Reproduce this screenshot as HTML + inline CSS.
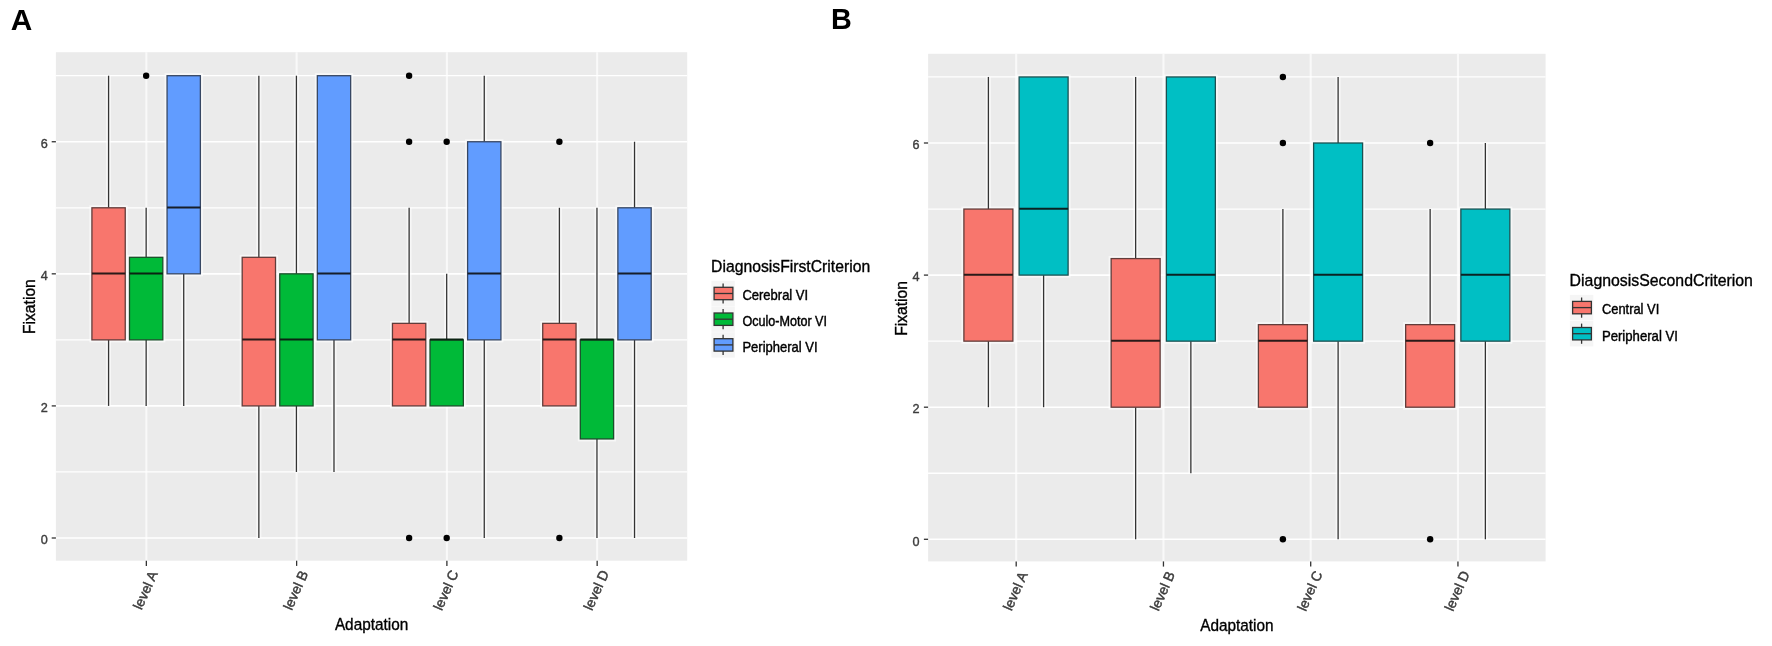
<!DOCTYPE html>
<html lang="en">
<head>
<meta charset="utf-8">
<title>Fixation by Adaptation level</title>
<style>
html, body { margin: 0; padding: 0; background: #ffffff; }
body { width: 1772px; height: 646px; overflow: hidden; font-family: "Liberation Sans", Arial, Helvetica, sans-serif; }
svg { display: block; filter: blur(0.4px); }
svg text { font-family: "Liberation Sans", Arial, Helvetica, sans-serif; }
</style>
</head>
<body>
<svg width="1772" height="646" viewBox="0 0 1772 646" font-family='"Liberation Sans", Arial, Helvetica, sans-serif'>
<rect width="1772" height="646" fill="#fff"/>
<text transform="translate(10.8 29.5)" font-size="29.8" text-anchor="start" fill="#000" font-weight="bold">A</text>
<text transform="translate(831 29.2) scale(0.97 1)" font-size="29.7" text-anchor="start" fill="#000" font-weight="bold">B</text>
<rect x="55.9" y="52.2" width="631.3" height="508.5" fill="#EBEBEB"/>
<line x1="55.9" x2="687.2" y1="471.96" y2="471.96" stroke="#fff" stroke-width="1.3"/>
<line x1="55.9" x2="687.2" y1="339.87" y2="339.87" stroke="#fff" stroke-width="1.3"/>
<line x1="55.9" x2="687.2" y1="207.79" y2="207.79" stroke="#fff" stroke-width="1.3"/>
<line x1="55.9" x2="687.2" y1="75.7" y2="75.7" stroke="#fff" stroke-width="1.3"/>
<line x1="55.9" x2="687.2" y1="538" y2="538" stroke="#fff" stroke-width="1.6"/>
<line x1="55.9" x2="687.2" y1="405.91" y2="405.91" stroke="#fff" stroke-width="1.6"/>
<line x1="55.9" x2="687.2" y1="273.83" y2="273.83" stroke="#fff" stroke-width="1.6"/>
<line x1="55.9" x2="687.2" y1="141.74" y2="141.74" stroke="#fff" stroke-width="1.6"/>
<line x1="146.35" x2="146.35" y1="52.2" y2="560.7" stroke="#fff" stroke-opacity="0.68" stroke-width="2.1"/>
<line x1="296.62" x2="296.62" y1="52.2" y2="560.7" stroke="#fff" stroke-opacity="0.68" stroke-width="2.1"/>
<line x1="446.89" x2="446.89" y1="52.2" y2="560.7" stroke="#fff" stroke-opacity="0.68" stroke-width="2.1"/>
<line x1="597.16" x2="597.16" y1="52.2" y2="560.7" stroke="#fff" stroke-opacity="0.68" stroke-width="2.1"/>
<line x1="108.58" x2="108.58" y1="75.7" y2="405.91" stroke="#fff" stroke-opacity="0.6" stroke-width="5" fill="none"/>
<rect x="91.92" y="207.79" width="33.32" height="132.09" stroke="#fff" stroke-opacity="0.6" stroke-width="5" fill="none"/>
<line x1="108.58" x2="108.58" y1="75.7" y2="207.79" stroke="#333333" stroke-width="1.3"/>
<line x1="108.58" x2="108.58" y1="339.87" y2="405.91" stroke="#333333" stroke-width="1.3"/>
<rect x="91.92" y="207.79" width="33.32" height="132.09" fill="#F8766D" stroke="#613c3a" stroke-width="1.3"/>
<line x1="91.92" x2="125.24" y1="273.48" y2="273.48" stroke="#291a19" stroke-width="2.1"/>
<line x1="146.15" x2="146.15" y1="207.79" y2="405.91" stroke="#fff" stroke-opacity="0.6" stroke-width="5" fill="none"/>
<rect x="129.49" y="257.32" width="33.32" height="82.55" stroke="#fff" stroke-opacity="0.6" stroke-width="5" fill="none"/>
<line x1="146.15" x2="146.15" y1="207.79" y2="257.32" stroke="#333333" stroke-width="1.3"/>
<line x1="146.15" x2="146.15" y1="339.87" y2="405.91" stroke="#333333" stroke-width="1.3"/>
<rect x="129.49" y="257.32" width="33.32" height="82.55" fill="#00BA38" stroke="#1b4f2b" stroke-width="1.3"/>
<line x1="129.49" x2="162.81" y1="273.48" y2="273.48" stroke="#0b2212" stroke-width="2.1"/>
<circle cx="146.15" cy="75.7" r="3.2" fill="#000"/>
<line x1="183.72" x2="183.72" y1="75.7" y2="405.91" stroke="#fff" stroke-opacity="0.6" stroke-width="5" fill="none"/>
<rect x="167.06" y="75.7" width="33.32" height="198.13" stroke="#fff" stroke-opacity="0.6" stroke-width="5" fill="none"/>
<line x1="183.72" x2="183.72" y1="273.83" y2="405.91" stroke="#333333" stroke-width="1.3"/>
<rect x="167.06" y="75.7" width="33.32" height="198.13" fill="#619CFF" stroke="#374763" stroke-width="1.3"/>
<line x1="167.06" x2="200.38" y1="207.44" y2="207.44" stroke="#171e2a" stroke-width="2.1"/>
<line x1="258.85" x2="258.85" y1="75.7" y2="538" stroke="#fff" stroke-opacity="0.6" stroke-width="5" fill="none"/>
<rect x="242.19" y="257.32" width="33.32" height="148.6" stroke="#fff" stroke-opacity="0.6" stroke-width="5" fill="none"/>
<line x1="258.85" x2="258.85" y1="75.7" y2="257.32" stroke="#333333" stroke-width="1.3"/>
<line x1="258.85" x2="258.85" y1="405.91" y2="538" stroke="#333333" stroke-width="1.3"/>
<rect x="242.19" y="257.32" width="33.32" height="148.6" fill="#F8766D" stroke="#613c3a" stroke-width="1.3"/>
<line x1="242.19" x2="275.51" y1="339.52" y2="339.52" stroke="#291a19" stroke-width="2.1"/>
<line x1="296.42" x2="296.42" y1="75.7" y2="471.96" stroke="#fff" stroke-opacity="0.6" stroke-width="5" fill="none"/>
<rect x="279.76" y="273.83" width="33.32" height="132.09" stroke="#fff" stroke-opacity="0.6" stroke-width="5" fill="none"/>
<line x1="296.42" x2="296.42" y1="75.7" y2="273.83" stroke="#333333" stroke-width="1.3"/>
<line x1="296.42" x2="296.42" y1="405.91" y2="471.96" stroke="#333333" stroke-width="1.3"/>
<rect x="279.76" y="273.83" width="33.32" height="132.09" fill="#00BA38" stroke="#1b4f2b" stroke-width="1.3"/>
<line x1="279.76" x2="313.08" y1="339.52" y2="339.52" stroke="#0b2212" stroke-width="2.1"/>
<line x1="333.99" x2="333.99" y1="75.7" y2="471.96" stroke="#fff" stroke-opacity="0.6" stroke-width="5" fill="none"/>
<rect x="317.33" y="75.7" width="33.32" height="264.17" stroke="#fff" stroke-opacity="0.6" stroke-width="5" fill="none"/>
<line x1="333.99" x2="333.99" y1="339.87" y2="471.96" stroke="#333333" stroke-width="1.3"/>
<rect x="317.33" y="75.7" width="33.32" height="264.17" fill="#619CFF" stroke="#374763" stroke-width="1.3"/>
<line x1="317.33" x2="350.65" y1="273.48" y2="273.48" stroke="#171e2a" stroke-width="2.1"/>
<line x1="409.12" x2="409.12" y1="207.79" y2="405.91" stroke="#fff" stroke-opacity="0.6" stroke-width="5" fill="none"/>
<rect x="392.46" y="323.36" width="33.32" height="82.55" stroke="#fff" stroke-opacity="0.6" stroke-width="5" fill="none"/>
<line x1="409.12" x2="409.12" y1="207.79" y2="323.36" stroke="#333333" stroke-width="1.3"/>
<rect x="392.46" y="323.36" width="33.32" height="82.55" fill="#F8766D" stroke="#613c3a" stroke-width="1.3"/>
<line x1="392.46" x2="425.78" y1="339.52" y2="339.52" stroke="#291a19" stroke-width="2.1"/>
<circle cx="409.12" cy="75.7" r="3.2" fill="#000"/>
<circle cx="409.12" cy="141.74" r="3.2" fill="#000"/>
<circle cx="409.12" cy="538" r="3.2" fill="#000"/>
<line x1="446.69" x2="446.69" y1="273.83" y2="405.91" stroke="#fff" stroke-opacity="0.6" stroke-width="5" fill="none"/>
<rect x="430.03" y="339.87" width="33.32" height="66.04" stroke="#fff" stroke-opacity="0.6" stroke-width="5" fill="none"/>
<line x1="446.69" x2="446.69" y1="273.83" y2="339.87" stroke="#333333" stroke-width="1.3"/>
<rect x="430.03" y="339.87" width="33.32" height="66.04" fill="#00BA38" stroke="#1b4f2b" stroke-width="1.3"/>
<line x1="430.03" x2="463.35" y1="339.52" y2="339.52" stroke="#0b2212" stroke-width="2.1"/>
<circle cx="446.69" cy="141.74" r="3.2" fill="#000"/>
<circle cx="446.69" cy="538" r="3.2" fill="#000"/>
<line x1="484.26" x2="484.26" y1="75.7" y2="538" stroke="#fff" stroke-opacity="0.6" stroke-width="5" fill="none"/>
<rect x="467.6" y="141.74" width="33.32" height="198.13" stroke="#fff" stroke-opacity="0.6" stroke-width="5" fill="none"/>
<line x1="484.26" x2="484.26" y1="75.7" y2="141.74" stroke="#333333" stroke-width="1.3"/>
<line x1="484.26" x2="484.26" y1="339.87" y2="538" stroke="#333333" stroke-width="1.3"/>
<rect x="467.6" y="141.74" width="33.32" height="198.13" fill="#619CFF" stroke="#374763" stroke-width="1.3"/>
<line x1="467.6" x2="500.92" y1="273.48" y2="273.48" stroke="#171e2a" stroke-width="2.1"/>
<line x1="559.39" x2="559.39" y1="207.79" y2="405.91" stroke="#fff" stroke-opacity="0.6" stroke-width="5" fill="none"/>
<rect x="542.73" y="323.36" width="33.32" height="82.55" stroke="#fff" stroke-opacity="0.6" stroke-width="5" fill="none"/>
<line x1="559.39" x2="559.39" y1="207.79" y2="323.36" stroke="#333333" stroke-width="1.3"/>
<rect x="542.73" y="323.36" width="33.32" height="82.55" fill="#F8766D" stroke="#613c3a" stroke-width="1.3"/>
<line x1="542.73" x2="576.05" y1="339.52" y2="339.52" stroke="#291a19" stroke-width="2.1"/>
<circle cx="559.39" cy="141.74" r="3.2" fill="#000"/>
<circle cx="559.39" cy="538" r="3.2" fill="#000"/>
<line x1="596.96" x2="596.96" y1="207.79" y2="538" stroke="#fff" stroke-opacity="0.6" stroke-width="5" fill="none"/>
<rect x="580.3" y="339.87" width="33.32" height="99.06" stroke="#fff" stroke-opacity="0.6" stroke-width="5" fill="none"/>
<line x1="596.96" x2="596.96" y1="207.79" y2="339.87" stroke="#333333" stroke-width="1.3"/>
<line x1="596.96" x2="596.96" y1="438.94" y2="538" stroke="#333333" stroke-width="1.3"/>
<rect x="580.3" y="339.87" width="33.32" height="99.06" fill="#00BA38" stroke="#1b4f2b" stroke-width="1.3"/>
<line x1="580.3" x2="613.62" y1="339.52" y2="339.52" stroke="#0b2212" stroke-width="2.1"/>
<line x1="634.53" x2="634.53" y1="141.74" y2="538" stroke="#fff" stroke-opacity="0.6" stroke-width="5" fill="none"/>
<rect x="617.87" y="207.79" width="33.32" height="132.09" stroke="#fff" stroke-opacity="0.6" stroke-width="5" fill="none"/>
<line x1="634.53" x2="634.53" y1="141.74" y2="207.79" stroke="#333333" stroke-width="1.3"/>
<line x1="634.53" x2="634.53" y1="339.87" y2="538" stroke="#333333" stroke-width="1.3"/>
<rect x="617.87" y="207.79" width="33.32" height="132.09" fill="#619CFF" stroke="#374763" stroke-width="1.3"/>
<line x1="617.87" x2="651.19" y1="273.48" y2="273.48" stroke="#171e2a" stroke-width="2.1"/>
<line x1="51.7" x2="55.9" y1="538" y2="538" stroke="#333333" stroke-width="1.3"/>
<text transform="translate(47.7 544.2) scale(0.93 1)" font-size="13.6" text-anchor="end" fill="#3c3c3c" stroke="#3c3c3c" stroke-width="0.4">0</text>
<line x1="51.7" x2="55.9" y1="405.91" y2="405.91" stroke="#333333" stroke-width="1.3"/>
<text transform="translate(47.7 412.11) scale(0.93 1)" font-size="13.6" text-anchor="end" fill="#3c3c3c" stroke="#3c3c3c" stroke-width="0.4">2</text>
<line x1="51.7" x2="55.9" y1="273.83" y2="273.83" stroke="#333333" stroke-width="1.3"/>
<text transform="translate(47.7 280.03) scale(0.93 1)" font-size="13.6" text-anchor="end" fill="#3c3c3c" stroke="#3c3c3c" stroke-width="0.4">4</text>
<line x1="51.7" x2="55.9" y1="141.74" y2="141.74" stroke="#333333" stroke-width="1.3"/>
<text transform="translate(47.7 147.94) scale(0.93 1)" font-size="13.6" text-anchor="end" fill="#3c3c3c" stroke="#3c3c3c" stroke-width="0.4">6</text>
<line x1="146.35" x2="146.35" y1="560.7" y2="565.9" stroke="#333333" stroke-width="1.3"/>
<g transform="translate(145.45 590.2) rotate(-66)">
<text transform="translate(0 4.8) scale(0.98 1)" font-size="14" text-anchor="middle" fill="#3c3c3c" stroke="#3c3c3c" stroke-width="0.45">level A</text>
</g>
<line x1="296.62" x2="296.62" y1="560.7" y2="565.9" stroke="#333333" stroke-width="1.3"/>
<g transform="translate(295.72 590.2) rotate(-66)">
<text transform="translate(0 4.8) scale(0.98 1)" font-size="14" text-anchor="middle" fill="#3c3c3c" stroke="#3c3c3c" stroke-width="0.45">level B</text>
</g>
<line x1="446.89" x2="446.89" y1="560.7" y2="565.9" stroke="#333333" stroke-width="1.3"/>
<g transform="translate(445.99 590.2) rotate(-66)">
<text transform="translate(0 4.8) scale(0.98 1)" font-size="14" text-anchor="middle" fill="#3c3c3c" stroke="#3c3c3c" stroke-width="0.45">level C</text>
</g>
<line x1="597.16" x2="597.16" y1="560.7" y2="565.9" stroke="#333333" stroke-width="1.3"/>
<g transform="translate(596.26 590.2) rotate(-66)">
<text transform="translate(0 4.8) scale(0.98 1)" font-size="14" text-anchor="middle" fill="#3c3c3c" stroke="#3c3c3c" stroke-width="0.45">level D</text>
</g>
<text transform="translate(371.55 629.5) scale(0.93 1)" font-size="16.5" text-anchor="middle" fill="#000" stroke="#000" stroke-width="0.35">Adaptation</text>
<text transform="translate(35.2 306.6) rotate(-90) scale(0.95 1)" font-size="16.5" text-anchor="middle" fill="#000" stroke="#000" stroke-width="0.35">Fixation</text>
<text transform="translate(711.1 272.3) scale(0.954 1)" font-size="16.5" text-anchor="start" fill="#000" stroke="#000" stroke-width="0.35">DiagnosisFirstCriterion</text>
<rect x="711.4" y="280.8" width="23.4" height="25.4" fill="#F5F5F5"/>
<line x1="723.1" x2="723.1" y1="283.4" y2="303.6" stroke="#333333" stroke-width="1.3"/>
<rect x="714.1" y="287.3" width="18.8" height="12.4" fill="#F8766D" stroke="#333333" stroke-width="1.3"/>
<line x1="714.1" x2="732.9" y1="293.5" y2="293.5" stroke="#333333" stroke-width="1.3"/>
<text transform="translate(742.4 300.3) scale(0.93 1)" font-size="14" text-anchor="start" fill="#000" stroke="#000" stroke-width="0.42">Cerebral VI</text>
<rect x="711.4" y="306.5" width="23.4" height="25.4" fill="#F5F5F5"/>
<line x1="723.1" x2="723.1" y1="309.1" y2="329.3" stroke="#333333" stroke-width="1.3"/>
<rect x="714.1" y="313" width="18.8" height="12.4" fill="#00BA38" stroke="#333333" stroke-width="1.3"/>
<line x1="714.1" x2="732.9" y1="319.2" y2="319.2" stroke="#333333" stroke-width="1.3"/>
<text transform="translate(742.4 326) scale(0.9 1)" font-size="14" text-anchor="start" fill="#000" stroke="#000" stroke-width="0.42">Oculo-Motor VI</text>
<rect x="711.4" y="332.2" width="23.4" height="25.4" fill="#F5F5F5"/>
<line x1="723.1" x2="723.1" y1="334.8" y2="355" stroke="#333333" stroke-width="1.3"/>
<rect x="714.1" y="338.7" width="18.8" height="12.4" fill="#619CFF" stroke="#333333" stroke-width="1.3"/>
<line x1="714.1" x2="732.9" y1="344.9" y2="344.9" stroke="#333333" stroke-width="1.3"/>
<text transform="translate(742.4 351.7) scale(0.93 1)" font-size="14" text-anchor="start" fill="#000" stroke="#000" stroke-width="0.42">Peripheral VI</text>
<rect x="928.1" y="53.8" width="617.5" height="507.6" fill="#EBEBEB"/>
<line x1="928.1" x2="1545.6" y1="473.25" y2="473.25" stroke="#fff" stroke-width="1.3"/>
<line x1="928.1" x2="1545.6" y1="341.15" y2="341.15" stroke="#fff" stroke-width="1.3"/>
<line x1="928.1" x2="1545.6" y1="209.05" y2="209.05" stroke="#fff" stroke-width="1.3"/>
<line x1="928.1" x2="1545.6" y1="76.95" y2="76.95" stroke="#fff" stroke-width="1.3"/>
<line x1="928.1" x2="1545.6" y1="539.3" y2="539.3" stroke="#fff" stroke-width="1.6"/>
<line x1="928.1" x2="1545.6" y1="407.2" y2="407.2" stroke="#fff" stroke-width="1.6"/>
<line x1="928.1" x2="1545.6" y1="275.1" y2="275.1" stroke="#fff" stroke-width="1.6"/>
<line x1="928.1" x2="1545.6" y1="143" y2="143" stroke="#fff" stroke-width="1.6"/>
<line x1="1016.2" x2="1016.2" y1="53.8" y2="561.4" stroke="#fff" stroke-opacity="0.68" stroke-width="2.1"/>
<line x1="1163.45" x2="1163.45" y1="53.8" y2="561.4" stroke="#fff" stroke-opacity="0.68" stroke-width="2.1"/>
<line x1="1310.7" x2="1310.7" y1="53.8" y2="561.4" stroke="#fff" stroke-opacity="0.68" stroke-width="2.1"/>
<line x1="1457.95" x2="1457.95" y1="53.8" y2="561.4" stroke="#fff" stroke-opacity="0.68" stroke-width="2.1"/>
<line x1="988.39" x2="988.39" y1="76.95" y2="407.2" stroke="#fff" stroke-opacity="0.6" stroke-width="5" fill="none"/>
<rect x="963.9" y="209.05" width="48.98" height="132.1" stroke="#fff" stroke-opacity="0.6" stroke-width="5" fill="none"/>
<line x1="988.39" x2="988.39" y1="76.95" y2="209.05" stroke="#333333" stroke-width="1.3"/>
<line x1="988.39" x2="988.39" y1="341.15" y2="407.2" stroke="#333333" stroke-width="1.3"/>
<rect x="963.9" y="209.05" width="48.98" height="132.1" fill="#F8766D" stroke="#613c3a" stroke-width="1.3"/>
<line x1="963.9" x2="1012.88" y1="274.75" y2="274.75" stroke="#291a19" stroke-width="2.1"/>
<line x1="1043.61" x2="1043.61" y1="76.95" y2="407.2" stroke="#fff" stroke-opacity="0.6" stroke-width="5" fill="none"/>
<rect x="1019.12" y="76.95" width="48.98" height="198.15" stroke="#fff" stroke-opacity="0.6" stroke-width="5" fill="none"/>
<line x1="1043.61" x2="1043.61" y1="275.1" y2="407.2" stroke="#333333" stroke-width="1.3"/>
<rect x="1019.12" y="76.95" width="48.98" height="198.15" fill="#00BFC4" stroke="#1b5152" stroke-width="1.3"/>
<line x1="1019.12" x2="1068.1" y1="208.7" y2="208.7" stroke="#0b2223" stroke-width="2.1"/>
<line x1="1135.64" x2="1135.64" y1="76.95" y2="539.3" stroke="#fff" stroke-opacity="0.6" stroke-width="5" fill="none"/>
<rect x="1111.15" y="258.59" width="48.98" height="148.61" stroke="#fff" stroke-opacity="0.6" stroke-width="5" fill="none"/>
<line x1="1135.64" x2="1135.64" y1="76.95" y2="258.59" stroke="#333333" stroke-width="1.3"/>
<line x1="1135.64" x2="1135.64" y1="407.2" y2="539.3" stroke="#333333" stroke-width="1.3"/>
<rect x="1111.15" y="258.59" width="48.98" height="148.61" fill="#F8766D" stroke="#613c3a" stroke-width="1.3"/>
<line x1="1111.15" x2="1160.13" y1="340.8" y2="340.8" stroke="#291a19" stroke-width="2.1"/>
<line x1="1190.86" x2="1190.86" y1="76.95" y2="473.25" stroke="#fff" stroke-opacity="0.6" stroke-width="5" fill="none"/>
<rect x="1166.37" y="76.95" width="48.98" height="264.2" stroke="#fff" stroke-opacity="0.6" stroke-width="5" fill="none"/>
<line x1="1190.86" x2="1190.86" y1="341.15" y2="473.25" stroke="#333333" stroke-width="1.3"/>
<rect x="1166.37" y="76.95" width="48.98" height="264.2" fill="#00BFC4" stroke="#1b5152" stroke-width="1.3"/>
<line x1="1166.37" x2="1215.35" y1="274.75" y2="274.75" stroke="#0b2223" stroke-width="2.1"/>
<line x1="1282.89" x2="1282.89" y1="209.05" y2="407.2" stroke="#fff" stroke-opacity="0.6" stroke-width="5" fill="none"/>
<rect x="1258.4" y="324.64" width="48.98" height="82.56" stroke="#fff" stroke-opacity="0.6" stroke-width="5" fill="none"/>
<line x1="1282.89" x2="1282.89" y1="209.05" y2="324.64" stroke="#333333" stroke-width="1.3"/>
<rect x="1258.4" y="324.64" width="48.98" height="82.56" fill="#F8766D" stroke="#613c3a" stroke-width="1.3"/>
<line x1="1258.4" x2="1307.38" y1="340.8" y2="340.8" stroke="#291a19" stroke-width="2.1"/>
<circle cx="1282.89" cy="76.95" r="3.2" fill="#000"/>
<circle cx="1282.89" cy="143" r="3.2" fill="#000"/>
<circle cx="1282.89" cy="539.3" r="3.2" fill="#000"/>
<line x1="1338.11" x2="1338.11" y1="76.95" y2="539.3" stroke="#fff" stroke-opacity="0.6" stroke-width="5" fill="none"/>
<rect x="1313.62" y="143" width="48.98" height="198.15" stroke="#fff" stroke-opacity="0.6" stroke-width="5" fill="none"/>
<line x1="1338.11" x2="1338.11" y1="76.95" y2="143" stroke="#333333" stroke-width="1.3"/>
<line x1="1338.11" x2="1338.11" y1="341.15" y2="539.3" stroke="#333333" stroke-width="1.3"/>
<rect x="1313.62" y="143" width="48.98" height="198.15" fill="#00BFC4" stroke="#1b5152" stroke-width="1.3"/>
<line x1="1313.62" x2="1362.6" y1="274.75" y2="274.75" stroke="#0b2223" stroke-width="2.1"/>
<line x1="1430.14" x2="1430.14" y1="209.05" y2="407.2" stroke="#fff" stroke-opacity="0.6" stroke-width="5" fill="none"/>
<rect x="1405.65" y="324.64" width="48.98" height="82.56" stroke="#fff" stroke-opacity="0.6" stroke-width="5" fill="none"/>
<line x1="1430.14" x2="1430.14" y1="209.05" y2="324.64" stroke="#333333" stroke-width="1.3"/>
<rect x="1405.65" y="324.64" width="48.98" height="82.56" fill="#F8766D" stroke="#613c3a" stroke-width="1.3"/>
<line x1="1405.65" x2="1454.63" y1="340.8" y2="340.8" stroke="#291a19" stroke-width="2.1"/>
<circle cx="1430.14" cy="143" r="3.2" fill="#000"/>
<circle cx="1430.14" cy="539.3" r="3.2" fill="#000"/>
<line x1="1485.36" x2="1485.36" y1="143" y2="539.3" stroke="#fff" stroke-opacity="0.6" stroke-width="5" fill="none"/>
<rect x="1460.87" y="209.05" width="48.98" height="132.1" stroke="#fff" stroke-opacity="0.6" stroke-width="5" fill="none"/>
<line x1="1485.36" x2="1485.36" y1="143" y2="209.05" stroke="#333333" stroke-width="1.3"/>
<line x1="1485.36" x2="1485.36" y1="341.15" y2="539.3" stroke="#333333" stroke-width="1.3"/>
<rect x="1460.87" y="209.05" width="48.98" height="132.1" fill="#00BFC4" stroke="#1b5152" stroke-width="1.3"/>
<line x1="1460.87" x2="1509.85" y1="274.75" y2="274.75" stroke="#0b2223" stroke-width="2.1"/>
<line x1="923.9" x2="928.1" y1="539.3" y2="539.3" stroke="#333333" stroke-width="1.3"/>
<text transform="translate(919.5 545.5) scale(0.93 1)" font-size="13.6" text-anchor="end" fill="#3c3c3c" stroke="#3c3c3c" stroke-width="0.4">0</text>
<line x1="923.9" x2="928.1" y1="407.2" y2="407.2" stroke="#333333" stroke-width="1.3"/>
<text transform="translate(919.5 413.4) scale(0.93 1)" font-size="13.6" text-anchor="end" fill="#3c3c3c" stroke="#3c3c3c" stroke-width="0.4">2</text>
<line x1="923.9" x2="928.1" y1="275.1" y2="275.1" stroke="#333333" stroke-width="1.3"/>
<text transform="translate(919.5 281.3) scale(0.93 1)" font-size="13.6" text-anchor="end" fill="#3c3c3c" stroke="#3c3c3c" stroke-width="0.4">4</text>
<line x1="923.9" x2="928.1" y1="143" y2="143" stroke="#333333" stroke-width="1.3"/>
<text transform="translate(919.5 149.2) scale(0.93 1)" font-size="13.6" text-anchor="end" fill="#3c3c3c" stroke="#3c3c3c" stroke-width="0.4">6</text>
<line x1="1016.2" x2="1016.2" y1="561.4" y2="566.6" stroke="#333333" stroke-width="1.3"/>
<g transform="translate(1015.3 591) rotate(-66)">
<text transform="translate(0 4.8) scale(0.98 1)" font-size="14" text-anchor="middle" fill="#3c3c3c" stroke="#3c3c3c" stroke-width="0.45">level A</text>
</g>
<line x1="1163.45" x2="1163.45" y1="561.4" y2="566.6" stroke="#333333" stroke-width="1.3"/>
<g transform="translate(1162.55 591) rotate(-66)">
<text transform="translate(0 4.8) scale(0.98 1)" font-size="14" text-anchor="middle" fill="#3c3c3c" stroke="#3c3c3c" stroke-width="0.45">level B</text>
</g>
<line x1="1310.7" x2="1310.7" y1="561.4" y2="566.6" stroke="#333333" stroke-width="1.3"/>
<g transform="translate(1309.8 591) rotate(-66)">
<text transform="translate(0 4.8) scale(0.98 1)" font-size="14" text-anchor="middle" fill="#3c3c3c" stroke="#3c3c3c" stroke-width="0.45">level C</text>
</g>
<line x1="1457.95" x2="1457.95" y1="561.4" y2="566.6" stroke="#333333" stroke-width="1.3"/>
<g transform="translate(1457.05 591) rotate(-66)">
<text transform="translate(0 4.8) scale(0.98 1)" font-size="14" text-anchor="middle" fill="#3c3c3c" stroke="#3c3c3c" stroke-width="0.45">level D</text>
</g>
<text transform="translate(1236.85 630.7) scale(0.93 1)" font-size="16.5" text-anchor="middle" fill="#000" stroke="#000" stroke-width="0.35">Adaptation</text>
<text transform="translate(907 308.4) rotate(-90) scale(0.95 1)" font-size="16.5" text-anchor="middle" fill="#000" stroke="#000" stroke-width="0.35">Fixation</text>
<text transform="translate(1569.6 285.6) scale(0.962 1)" font-size="16.5" text-anchor="start" fill="#000" stroke="#000" stroke-width="0.35">DiagnosisSecondCriterion</text>
<rect x="1569.9" y="294.9" width="23.4" height="25.4" fill="#F5F5F5"/>
<line x1="1581.6" x2="1581.6" y1="297.5" y2="317.7" stroke="#333333" stroke-width="1.3"/>
<rect x="1572.6" y="301.4" width="18.8" height="12.4" fill="#F8766D" stroke="#333333" stroke-width="1.3"/>
<line x1="1572.6" x2="1591.4" y1="307.6" y2="307.6" stroke="#333333" stroke-width="1.3"/>
<text transform="translate(1601.9 314.4) scale(0.922 1)" font-size="14" text-anchor="start" fill="#000" stroke="#000" stroke-width="0.42">Central VI</text>
<rect x="1569.9" y="321" width="23.4" height="25.4" fill="#F5F5F5"/>
<line x1="1581.6" x2="1581.6" y1="323.6" y2="343.8" stroke="#333333" stroke-width="1.3"/>
<rect x="1572.6" y="327.5" width="18.8" height="12.4" fill="#00BFC4" stroke="#333333" stroke-width="1.3"/>
<line x1="1572.6" x2="1591.4" y1="333.7" y2="333.7" stroke="#333333" stroke-width="1.3"/>
<text transform="translate(1601.9 340.5) scale(0.94 1)" font-size="14" text-anchor="start" fill="#000" stroke="#000" stroke-width="0.42">Peripheral VI</text>
</svg>
</body>
</html>
